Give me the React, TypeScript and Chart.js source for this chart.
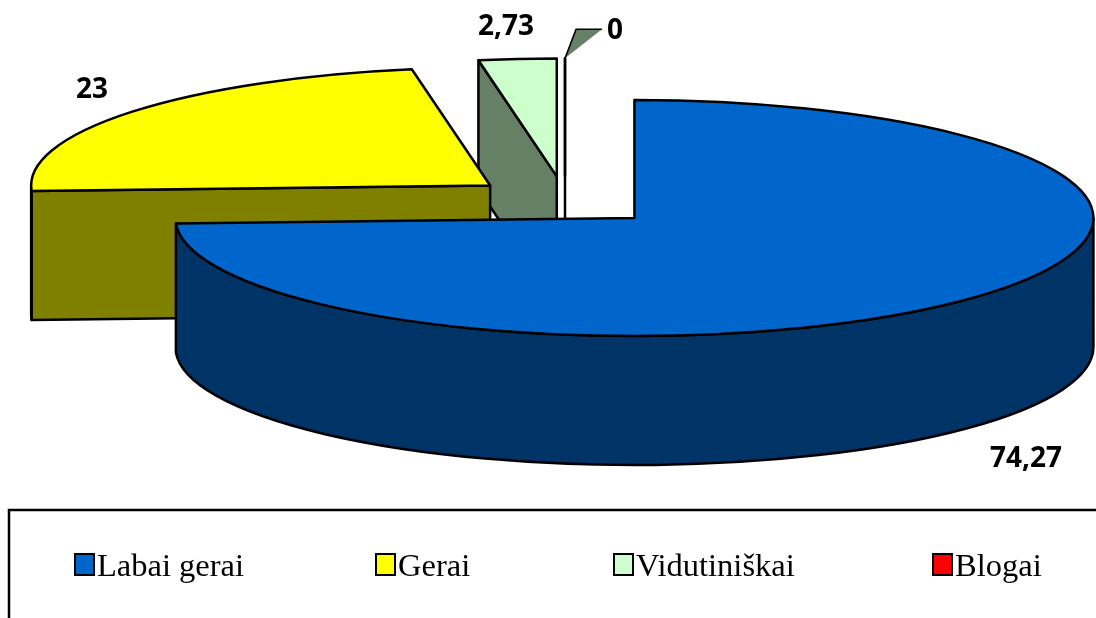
import React, { useEffect, useRef } from "react";
import { Chart, registerables } from "chart.js";

Chart.register(...registerables);

// ---- data ----
const categories = ["Labai gerai", "Gerai", "Vidutiniškai", "Blogai"];
const values = [74.27, 23, 2.73, 0];
const valueLabels = ["74,27", "23", "2,73", "0"];
const topColors = ["#0066CC", "#FFFF00", "#CCFFCC", "#FF0000"];
const sideColors = ["#003366", "#808000", "#668066", "#800000"];

// ---- layout ----
const W = 1096;
const H = 618;
const RADIUS = 459;
const EXPLODE = 96;
const TILT = 0.257;
const DEPTH = 129;
const BASE_Y = 201;
const LABEL_POS = [
  [1026, 467],
  [92, 98],
  [506, 35],
  [615, 39],
];
const LEGEND_X = [75, 376, 614, 933];
const LEGEND_BOX_Y = 554;

function geo(chart: any, arc: any) {
  const cy = (chart.chartArea.top + chart.chartArea.bottom) / 2;
  return {
    X: arc.x,
    Y: BASE_Y + (arc.y - cy) * TILT,
    R: arc.outerRadius,
    s: arc.startAngle,
    e: arc.endAngle,
  };
}

const pie3d = {
  id: "pie3d",
  afterDatasetsUpdate(chart: any) {
    const meta = chart.getDatasetMeta(0);
    meta.data.forEach((arc: any) => {
      const m = (arc.startAngle + arc.endAngle) / 2;
      arc.x += Math.cos(m) * EXPLODE;
      arc.y += Math.sin(m) * EXPLODE;
    });
  },
  beforeDatasetsDraw(chart: any) {
    const ctx = chart.ctx;
    const meta = chart.getDatasetMeta(0);
    const items = meta.data
      .map((arc: any, i: number) => ({ i, ...geo(chart, arc) }))
      .sort((a: any, b: any) => a.Y - b.Y);
    ctx.save();
    ctx.lineWidth = 2.5;
    ctx.strokeStyle = "#000";
    ctx.lineJoin = "round";
    for (const g of items) {
      const rk = g.R * TILT;
      const P = (a: number) => [g.X + g.R * Math.cos(a), g.Y + rk * Math.sin(a)];
      const face = (a: number) => {
        const p = P(a);
        ctx.beginPath();
        ctx.moveTo(g.X, g.Y);
        ctx.lineTo(p[0], p[1]);
        ctx.lineTo(p[0], p[1] + DEPTH);
        ctx.lineTo(g.X, g.Y + DEPTH);
        ctx.closePath();
        ctx.fillStyle = sideColors[g.i];
        ctx.fill();
        ctx.stroke();
      };
      if (g.e - g.s < 1e-6) {
        face(g.s);
        continue;
      }
      if (Math.cos(g.s) < -1e-6) face(g.s);
      if (Math.cos(g.e) > 1e-6) face(g.e);
      for (const k of [-2, 0, 2]) {
        const lo = Math.max(g.s, k * Math.PI);
        const hi = Math.min(g.e, k * Math.PI + Math.PI);
        if (hi - lo > 1e-4) {
          ctx.beginPath();
          ctx.ellipse(g.X, g.Y, g.R, rk, 0, lo, hi);
          ctx.ellipse(g.X, g.Y + DEPTH, g.R, rk, 0, hi, lo, true);
          ctx.closePath();
          ctx.fillStyle = sideColors[g.i];
          ctx.fill();
          ctx.stroke();
        }
      }
    }
    ctx.restore();
    // squash transform for the library-drawn top faces
    const cy = (chart.chartArea.top + chart.chartArea.bottom) / 2;
    ctx.save();
    ctx.translate(0, BASE_Y);
    ctx.scale(1, TILT);
    ctx.translate(0, -cy);
  },
  afterDatasetsDraw(chart: any) {
    const ctx = chart.ctx;
    ctx.restore();
    const meta = chart.getDatasetMeta(0);
    ctx.save();
    ctx.lineWidth = 2.5;
    ctx.strokeStyle = "#000";
    ctx.lineJoin = "round";
    meta.data.forEach((arc: any, i: number) => {
      const g = geo(chart, arc);
      const rk = g.R * TILT;
      ctx.beginPath();
      ctx.moveTo(g.X, g.Y);
      ctx.ellipse(g.X, g.Y, g.R, rk, 0, g.s, g.e);
      ctx.closePath();
      ctx.stroke();
      if (values[i] === 0) {
        const px = g.X + g.R * Math.cos(g.s);
        const py = g.Y + rk * Math.sin(g.s);
        ctx.beginPath();
        ctx.moveTo(px, py);
        ctx.lineTo(px + 11, py - 29);
        ctx.lineTo(px + 37, py - 29);
        ctx.closePath();
        ctx.fillStyle = sideColors[2];
        ctx.fill();
        ctx.lineWidth = 1.5;
        ctx.beginPath();
        ctx.moveTo(px, py);
        ctx.lineTo(px + 11, py - 29);
        ctx.lineTo(px + 37, py - 29);
        ctx.stroke();
        ctx.lineWidth = 2.5;
      }
    });
    // value labels
    ctx.fillStyle = "#000";
    ctx.font = '700 28px "Open Sans"';
    ctx.textAlign = "center";
    ctx.textBaseline = "alphabetic";
    valueLabels.forEach((t, i) => {
      ctx.fillText(t, LABEL_POS[i][0], LABEL_POS[i][1]);
    });
    ctx.restore();
  },
  afterDraw(chart: any) {
    const ctx = chart.ctx;
    ctx.save();
    ctx.strokeStyle = "#000";
    ctx.lineWidth = 2.5;
    ctx.strokeRect(9, 510, 1200, 200);
    ctx.font = '32.5px "Liberation Serif"';
    ctx.textAlign = "left";
    ctx.textBaseline = "alphabetic";
    categories.forEach((c, i) => {
      const x = LEGEND_X[i];
      ctx.fillStyle = topColors[i];
      ctx.fillRect(x, LEGEND_BOX_Y, 19, 21);
      ctx.lineWidth = 2;
      ctx.strokeRect(x, LEGEND_BOX_Y, 19, 21);
      ctx.fillStyle = "#000";
      ctx.fillText(c, x + 22, 576);
    });
    ctx.restore();
  },
};

export default function App() {
  const ref = useRef<HTMLCanvasElement | null>(null);
  useEffect(() => {
    if (!ref.current) return;
    const chart = new Chart(ref.current, {
      type: "pie",
      data: {
        labels: categories,
        datasets: [
          {
            data: values,
            backgroundColor: topColors,
            borderWidth: 0,
            radius: RADIUS,
            clip: false,
          } as any,
        ],
      },
      options: {
        responsive: false,
        animation: false,
        devicePixelRatio: 1,
        events: [],
        layout: { padding: { left: 34, right: 0, top: 0, bottom: 0 } },
        plugins: { legend: { display: false }, tooltip: { enabled: false } },
      } as any,
      plugins: [pie3d as any],
    });
    return () => chart.destroy();
  }, []);
  return (
    <div style={{ position: "fixed", left: 0, top: 0, width: W, height: H, background: "#fff" }}>
      <canvas ref={ref} width={W} height={H} style={{ display: "block", width: W, height: H }} />
    </div>
  );
}
